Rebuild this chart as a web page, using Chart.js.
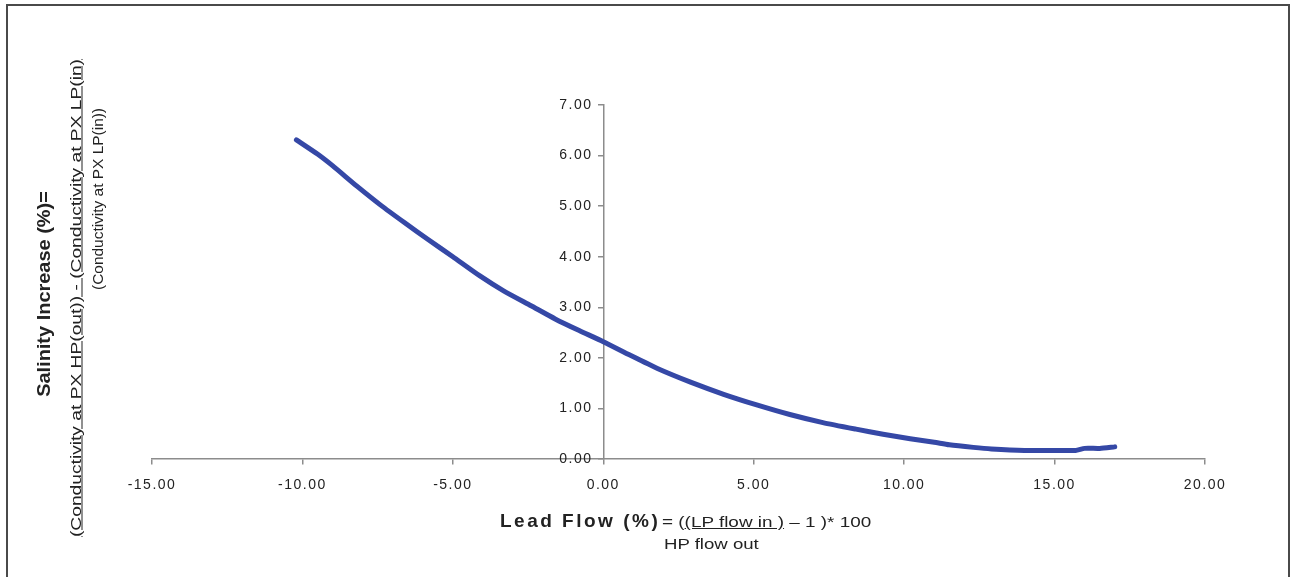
<!DOCTYPE html>
<html>
<head>
<meta charset="utf-8">
<script src="https://cdn.jsdelivr.net/npm/chart.js@4/dist/chart.umd.min.js"></script>
<style>
  html, body { margin: 0; padding: 0; background: #fff; }
  #wrap { position: relative; width: 1297px; height: 577px; overflow: hidden; font-family: "Liberation Sans", Arial, sans-serif; color: #222; }
  #frame { position: absolute; left: 6px; top: 4px; width: 1280px; height: 620px; border: 2px solid #4a4a4a; border-bottom: none; pointer-events: none; }
  canvas { position: absolute; left: 0; top: 0; }
  .rot { position: absolute; white-space: nowrap; }
  .t { position: absolute; white-space: nowrap; transform-origin: left center; }
</style>
</head>
<body>
<div id="wrap">
  <canvas id="chart" width="1297" height="577"></canvas>
  <div id="frame"></div>

  <span class="rot" style="left:44px; top:294px; font-size:19px; font-weight:bold; transform: translate(-50%, -50%) rotate(-90deg) scaleX(1.05);">Salinity Increase (%)=</span>
  <span class="rot" style="left:75px; top:298px; font-size:15px; text-decoration:underline; transform: translate(-50%, -50%) rotate(-90deg) scaleX(1.28);">(Conductivity at PX HP(out)) - (Conductivity at PX LP(in)</span>
  <span class="rot" style="left:97px; top:199px; font-size:15px; transform: translate(-50%, -50%) rotate(-90deg) scaleX(1.03);">(Conductivity at PX LP(in))</span>

  <span class="t" style="left:500px; top:510px; font-size:19px; font-weight:bold; letter-spacing:2.5px;">Lead Flow (%)</span>
  <span class="t" style="left:662px; top:513px; font-size:15px; transform: scaleX(1.26);">= (<u>(LP flow in )</u> &ndash; 1 )* 100</span>
  <span class="t" style="left:664px; top:535px; font-size:15px; transform: scaleX(1.24);">HP flow out</span>
</div>
<script>
// lead flow (%) vs salinity increase (%)
const leadFlow = [-10.2, -9.5, -9.0, -8.2, -7.4, -6.6, -5.8, -5.0, -4.1, -3.3, -2.4, -1.6, -0.8, 0.0,
    0.9, 1.8, 2.9, 4.0, 5.1, 6.2, 7.3, 8.4, 9.3, 10.2, 11.0, 11.5, 12.3, 12.9, 14.0, 15.0, 15.7, 16.0, 16.5, 17.0];
const salinity = [6.31, 6.03, 5.80, 5.40, 5.02, 4.67, 4.33, 4.00, 3.62, 3.32, 3.03, 2.77, 2.54, 2.32,
    2.05, 1.79, 1.52, 1.28, 1.07, 0.88, 0.72, 0.59, 0.49, 0.40, 0.33, 0.28, 0.23, 0.20, 0.17, 0.17, 0.17, 0.21, 0.21, 0.24];

const xRange = [-15, 20];
const yRange = [0, 7];

const points = leadFlow.map((x, i) => ({ x, y: salinity[i] }));

const tickFont = { family: "'Liberation Sans', Arial, sans-serif", size: 14 };
const axisColor = "#8c8c8c";

// the tick labels in the original are a bit wider than plain Arial
const wideText = {
    id: "wideText",
    beforeDraw(chart) { chart.ctx.letterSpacing = "1.5px"; },
    beforeDatasetsDraw(chart) { chart.ctx.letterSpacing = "0px"; }
};

new Chart(document.getElementById("chart"), {
    type: "scatter",
    data: {
        datasets: [{
            data: points,
            showLine: true,
            borderColor: "#3548a6",
            borderWidth: 5,
            borderCapStyle: "round",
            borderJoinStyle: "round",
            pointRadius: 0,
            tension: 0.2
        }]
    },
    options: {
        responsive: false,
        animation: false,
        layout: { padding: { left: 152, right: 92, top: 105, bottom: 118 } },
        plugins: { legend: { display: false }, tooltip: { enabled: false } },
        scales: {
            x: {
                type: "linear",
                position: { y: 0 },
                min: xRange[0], max: xRange[1],
                ticks: { stepSize: 5, font: tickFont, color: "#222", padding: 13, maxRotation: 0,
                    callback: v => v.toFixed(2) },
                grid: { drawOnChartArea: false, tickLength: 5, color: axisColor, lineWidth: 1.5 },
                border: { color: axisColor, width: 1.5 }
            },
            y: {
                type: "linear",
                position: { x: 0 },
                min: yRange[0], max: yRange[1],
                ticks: { stepSize: 1, font: tickFont, color: "#222",
                    callback: v => v.toFixed(2) + "  " },
                grid: { drawOnChartArea: false, tickLength: 5, color: axisColor, lineWidth: 1.5 },
                border: { color: axisColor, width: 1.5 }
            }
        }
    },
    plugins: [wideText]
});
</script>
</body>
</html>
